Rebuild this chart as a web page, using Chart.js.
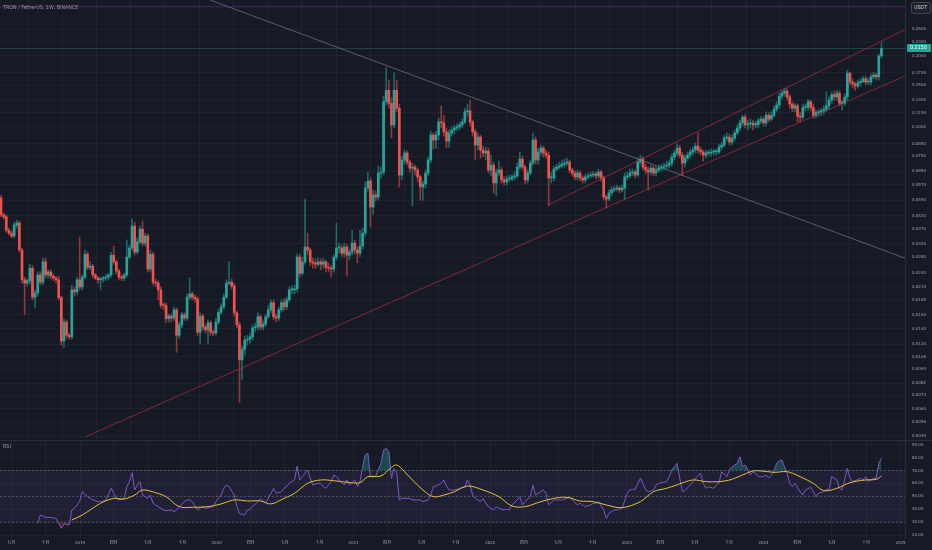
<!DOCTYPE html>
<html>
<head>
<meta charset="utf-8">
<script src="https://cdn.jsdelivr.net/npm/chart.js@4.4.1/dist/chart.umd.min.js"></script>
<style>
  body { margin:0; background:#161a25; width:932px; height:550px; overflow:hidden; position:relative; font-family:"DejaVu Sans", sans-serif; }
  #main { position:absolute; left:0; top:0; width:932px; height:440px; }
  #rsi { position:absolute; left:0; top:441px; width:932px; height:109px; }
  .sep { position:absolute; left:0; top:440px; width:932px; height:1px; background:#2a2e39; }
  .small { position:absolute; font-size:8px; transform:scale(0.6); transform-origin:0 0; white-space:nowrap; }
  #unit { position:absolute; left:911px; top:2px; width:18px; height:10px; border:1px solid #434651; border-radius:2px; background:#1e222d; }
  #tag { position:absolute; left:907px; top:44px; width:24px; height:8px; background:#26a69a; border-radius:1px; }
</style>
</head>
<body>
<div id="main"><canvas id="priceChart"></canvas></div>
<div class="sep"></div>
<div id="rsi"><canvas id="rsiChart"></canvas></div>
<div class="small" style="left:3px;top:5px;color:#9598a1">TRON / TetherUS, 1W, BINANCE</div>
<div class="small" style="left:3px;top:444px;color:#9598a1">RSI</div>
<div id="unit"><div class="small" style="left:2px;top:2px;color:#d1d4dc">USDT</div></div>
<div id="tag"><div class="small" style="left:3px;top:1px;color:#ffffff">0.2150</div></div>
<script>
// weekly candles, week 0 = 2018-06-04
const firstOpen = 0.0500;
const closes = [
0.0424,0.0416,0.0365,0.0355,0.0345,0.0384,0.0392,0.0301,0.0225,0.0218,
0.0223,0.0252,0.0190,0.0198,0.0236,0.0220,0.0268,0.0236,0.0243,0.0233,
0.0229,0.0225,0.0189,0.0124,0.0149,0.0131,0.0129,0.0204,0.0200,0.0225,
0.0210,0.0231,0.0289,0.0254,0.0257,0.0236,0.0229,0.0225,0.0227,0.0229,
0.0231,0.0236,0.0286,0.0268,0.0245,0.0231,0.0229,0.0236,0.0281,0.0307,
0.0380,0.0295,0.0326,0.0369,0.0322,0.0345,0.0250,0.0289,0.0220,0.0218,
0.0204,0.0176,0.0175,0.0154,0.0158,0.0155,0.0168,0.0131,0.0145,0.0160,
0.0155,0.0190,0.0196,0.0190,0.0187,0.0135,0.0158,0.0142,0.0138,0.0148,
0.0135,0.0134,0.0149,0.0164,0.0173,0.0190,0.0218,0.0220,0.0212,0.0163,
0.0145,0.0103,0.0114,0.0125,0.0126,0.0129,0.0141,0.0142,0.0157,0.0142,
0.0146,0.0157,0.0168,0.0180,0.0157,0.0155,0.0168,0.0180,0.0173,0.0185,
0.0204,0.0204,0.0206,0.0281,0.0240,0.0268,0.0310,0.0301,0.0268,0.0265,
0.0262,0.0268,0.0262,0.0268,0.0254,0.0252,0.0250,0.0281,0.0307,0.0307,
0.0292,0.0310,0.0286,0.0295,0.0322,0.0301,0.0292,0.0313,0.0355,0.0551,
0.0590,0.0458,0.0515,0.0505,0.0638,0.0644,0.128,0.143,0.126,0.102,
0.143,0.120,0.0626,0.0724,0.0775,0.0710,0.0669,0.0676,0.0657,0.0614,
0.0557,0.0573,0.0638,0.0724,0.0924,0.0880,0.0924,0.105,0.104,0.0952,
0.0872,0.0943,0.0971,0.0990,0.100,0.102,0.105,0.116,0.117,0.105,
0.0952,0.0838,0.0906,0.0798,0.0775,0.0790,0.0657,0.0689,0.0579,0.0638,
0.0657,0.0596,0.0585,0.0602,0.0602,0.0614,0.0620,0.0676,0.0731,0.0676,
0.0596,0.0638,0.0703,0.0880,0.0724,0.0783,0.0814,0.0775,0.0760,0.0608,
0.0608,0.0663,0.0676,0.0683,0.0696,0.0703,0.0710,0.0657,0.0638,0.0614,
0.0638,0.0608,0.0596,0.0614,0.0620,0.0626,0.0632,0.0620,0.0644,0.0608,
0.0505,0.0495,0.0525,0.0541,0.0546,0.0551,0.0541,0.0551,0.0614,0.0620,
0.0638,0.0644,0.0626,0.0710,0.0731,0.0676,0.0657,0.0644,0.0669,0.0638,
0.0657,0.0669,0.0676,0.0683,0.0689,0.0703,0.0746,0.0775,0.0814,0.0760,
0.0703,0.0738,0.0760,0.0783,0.0798,0.0830,0.0798,0.0783,0.0760,0.0775,
0.0775,0.0783,0.0783,0.0783,0.0822,0.0838,0.0897,0.0906,0.0863,0.0897,
0.0943,0.0990,0.104,0.110,0.102,0.103,0.104,0.102,0.102,0.106,
0.108,0.104,0.112,0.108,0.112,0.119,0.124,0.135,0.139,0.142,
0.134,0.125,0.120,0.123,0.111,0.110,0.121,0.121,0.128,0.121,
0.112,0.115,0.116,0.117,0.119,0.123,0.130,0.137,0.134,0.139,
0.126,0.126,0.134,0.169,0.155,0.152,0.149,0.154,0.156,0.160,
0.155,0.155,0.163,0.166,0.163,0.200,0.215
];
const highs = [
0.0515,0.0432,0.0424,0.0373,0.0362,0.0395,0.0403,0.0399,0.0307,0.0231,
0.0227,0.0262,0.0259,0.0204,0.0243,0.0243,0.0278,0.0278,0.0248,0.0248,
0.0238,0.0233,0.0233,0.0192,0.0154,0.0152,0.0134,0.0214,0.0210,0.0231,
0.0342,0.0236,0.0301,0.0295,0.0268,0.0262,0.0240,0.0233,0.0231,0.0233,
0.0236,0.0240,0.0295,0.0313,0.0273,0.0250,0.0236,0.0240,0.0332,0.0316,
0.0407,0.0395,0.0339,0.0380,0.0399,0.0355,0.0352,0.0301,0.0295,0.0227,
0.0223,0.0210,0.0180,0.0180,0.0161,0.0161,0.0173,0.0171,0.0149,0.0164,
0.0163,0.0196,0.0229,0.0200,0.0194,0.0190,0.0163,0.0161,0.0145,0.0152,
0.0151,0.0138,0.0155,0.0169,0.0178,0.0196,0.0225,0.0268,0.0227,0.0218,
0.0166,0.0149,0.0118,0.0130,0.0131,0.0134,0.0145,0.0148,0.0163,0.0160,
0.0151,0.0161,0.0175,0.0185,0.0185,0.0161,0.0173,0.0185,0.0187,0.0190,
0.0210,0.0212,0.0214,0.0289,0.0289,0.0281,0.0495,0.0355,0.0307,0.0278,
0.0276,0.0278,0.0276,0.0278,0.0273,0.0265,0.0259,0.0289,0.0392,0.0322,
0.0316,0.0322,0.0319,0.0304,0.0365,0.0332,0.0310,0.0365,0.0373,0.0585,
0.0644,0.0608,0.0541,0.0535,0.0683,0.0676,0.135,0.178,0.158,0.133,
0.169,0.158,0.125,0.0753,0.0798,0.0790,0.0724,0.0703,0.0689,0.0669,
0.0626,0.0590,0.0657,0.0746,0.0961,0.0943,0.0961,0.109,0.123,0.112,
0.0990,0.0971,0.100,0.102,0.103,0.105,0.108,0.120,0.125,0.130,
0.107,0.0980,0.0943,0.0924,0.0830,0.0822,0.0814,0.0760,0.0710,0.0663,
0.0717,0.0676,0.0614,0.0620,0.0626,0.0632,0.0644,0.0703,0.0783,0.0753,
0.0689,0.0657,0.0724,0.0943,0.0906,0.0814,0.0838,0.0830,0.0798,0.0783,
0.0644,0.0683,0.0696,0.0710,0.0724,0.0731,0.0738,0.0724,0.0669,0.0650,
0.0657,0.0650,0.0620,0.0632,0.0638,0.0644,0.0650,0.0644,0.0663,0.0657,
0.0620,0.0515,0.0541,0.0557,0.0562,0.0567,0.0562,0.0567,0.0638,0.0644,
0.0663,0.0663,0.0657,0.0738,0.0760,0.0746,0.0696,0.0676,0.0689,0.0683,
0.0676,0.0689,0.0696,0.0703,0.0717,0.0724,0.0768,0.0798,0.0846,0.0838,
0.0783,0.0760,0.0783,0.0806,0.0822,0.0855,0.0943,0.0822,0.0798,0.0798,
0.0798,0.0806,0.0806,0.0806,0.0846,0.0863,0.0924,0.0943,0.0933,0.0924,
0.0971,0.102,0.107,0.112,0.113,0.107,0.108,0.107,0.106,0.109,
0.111,0.110,0.116,0.115,0.116,0.123,0.128,0.139,0.143,0.146,
0.145,0.137,0.128,0.126,0.125,0.115,0.125,0.125,0.131,0.130,
0.125,0.118,0.119,0.120,0.123,0.141,0.134,0.141,0.142,0.143,
0.142,0.130,0.138,0.174,0.171,0.160,0.155,0.158,0.161,0.164,
0.164,0.161,0.168,0.171,0.169,0.204,0.227
];
const lows = [
0.0416,0.0407,0.0358,0.0349,0.0339,0.0339,0.0373,0.0295,0.0218,0.0160,
0.0212,0.0216,0.0185,0.0171,0.0192,0.0214,0.0214,0.0229,0.0229,0.0227,
0.0223,0.0218,0.0185,0.0119,0.0116,0.0127,0.0126,0.0126,0.0192,0.0194,
0.0204,0.0204,0.0227,0.0248,0.0248,0.0229,0.0225,0.0218,0.0204,0.0220,
0.0223,0.0225,0.0231,0.0262,0.0238,0.0225,0.0223,0.0223,0.0231,0.0276,
0.0301,0.0286,0.0289,0.0319,0.0313,0.0313,0.0243,0.0243,0.0214,0.0210,
0.0185,0.0171,0.0168,0.0148,0.0149,0.0149,0.0151,0.0111,0.0127,0.0141,
0.0151,0.0152,0.0185,0.0185,0.0181,0.0131,0.0121,0.0138,0.0134,0.0120,
0.0131,0.0130,0.0131,0.0146,0.0161,0.0169,0.0187,0.0214,0.0206,0.0158,
0.0141,0.0068,0.0085,0.0108,0.0119,0.0121,0.0125,0.0136,0.0138,0.0138,
0.0138,0.0143,0.0154,0.0163,0.0152,0.0149,0.0151,0.0164,0.0166,0.0168,
0.0181,0.0196,0.0196,0.0200,0.0231,0.0236,0.0262,0.0289,0.0259,0.0252,
0.0252,0.0257,0.0248,0.0252,0.0243,0.0243,0.0231,0.0243,0.0273,0.0292,
0.0283,0.0281,0.0233,0.0273,0.0286,0.0289,0.0265,0.0283,0.0304,0.0345,
0.0535,0.0377,0.0428,0.0486,0.0490,0.0608,0.0626,0.124,0.120,0.0897,
0.0990,0.116,0.0557,0.0596,0.0696,0.0689,0.0644,0.0462,0.0626,0.0585,
0.0490,0.0490,0.0551,0.0620,0.0703,0.0806,0.0814,0.0880,0.0990,0.0915,
0.0814,0.0822,0.0915,0.0933,0.0961,0.0971,0.0990,0.103,0.111,0.101,
0.0915,0.0724,0.0798,0.0738,0.0746,0.0724,0.0638,0.0620,0.0525,0.0510,
0.0620,0.0579,0.0567,0.0567,0.0585,0.0590,0.0596,0.0608,0.0663,0.0657,
0.0573,0.0579,0.0626,0.0689,0.0696,0.0696,0.0760,0.0746,0.0738,0.0462,
0.0579,0.0590,0.0650,0.0663,0.0669,0.0676,0.0689,0.0638,0.0620,0.0596,
0.0596,0.0590,0.0579,0.0579,0.0602,0.0608,0.0614,0.0602,0.0608,0.0590,
0.0490,0.0453,0.0486,0.0510,0.0530,0.0535,0.0525,0.0530,0.0495,0.0596,
0.0608,0.0620,0.0608,0.0614,0.0696,0.0657,0.0632,0.0541,0.0626,0.0620,
0.0620,0.0644,0.0650,0.0657,0.0663,0.0669,0.0683,0.0724,0.0753,0.0738,
0.0626,0.0676,0.0717,0.0738,0.0760,0.0775,0.0775,0.0760,0.0717,0.0738,
0.0753,0.0753,0.0760,0.0760,0.0768,0.0798,0.0822,0.0872,0.0838,0.0838,
0.0872,0.0924,0.0961,0.101,0.0990,0.0971,0.0990,0.0971,0.0990,0.0990,
0.103,0.101,0.101,0.105,0.106,0.110,0.116,0.120,0.131,0.135,
0.130,0.120,0.116,0.116,0.105,0.105,0.108,0.117,0.118,0.117,
0.109,0.109,0.111,0.112,0.113,0.116,0.119,0.126,0.130,0.130,
0.123,0.118,0.123,0.130,0.151,0.146,0.143,0.146,0.149,0.154,
0.151,0.151,0.151,0.160,0.158,0.158,0.196
];

// RSI(14) and its moving average, by week number
const rsiWeeks = [
14,15,17,19,21,22,23,24,26,27, 28,29,30,31,33,34,35,37,38,39,
40,42,43,44,45,47,48,49,50,51, 52,53,54,56,57,58,59,61,62,63,
65,66,67,68,70,71,72,73,75,76, 77,78,80,81,82,84,85,86,87,89,
90,91,93,94,95,96,98,99,100,101, 103,104,105,107,108,109,110,112,113,114,
115,117,118,119,121,122,123,124,126,127, 128,129,131,132,133,135,136,137,138,139,
140,141,142,143,145,146,147,148,149,150, 151,152,153,155,156,157,159,160,161,163,
164,165,166,168,169,170,171,173,174,175, 177,178,179,180,181,183,184,185,186,188,
189,190,192,193,194,195,197,198,199,200, 202,203,204,206,207,208,209,211,212,213,
214,216,217,218,220,221,222,223,225,226, 227,228,230,231,232,234,235,236,237,239,
240,241,242,244,245,246,247,249,250,251, 254,255,256,257,258,260,261,263,264,265,
267,268,269,270,272,273,274,275,277,278, 279,281,282,283,284,286,287,288,289,291,
292,293,295,296,297,298,300,301,302,303, 305,306,307,309,310,311,312,314,315,316,
317,319,320,321,323,324,325,326,328,329, 330,331,333,334,335,336
];
const rsiValues = [
29.1,35.5,33.7,33.7,32.9,29.1,25.2,28.6,27.8,39.4, 40.7,43.3,45.9,53.6,49.7,48.4,47.2,45.9,45.9,46.4,
47.2,56.2,52.3,48.4,47.2,48.4,57.5,61.4,68.3,54.9, 58.8,61.4,51.0,48.4,51.0,44.6,43.3,40.7,39.4,38.9,
39.4,38.1,39.4,42.0,45.9,47.2,47.2,45.9,39.4,40.7, 42.0,40.7,41.5,42.0,45.9,51.0,56.2,58.8,57.5,51.0,
42.0,36.8,35.5,39.4,39.9,42.0,45.9,48.4,46.6,45.1, 52.3,56.2,52.3,53.6,56.2,57.5,60.1,62.7,73.5,62.7,
65.2,70.4,64.0,58.8,60.1,60.1,57.5,56.2,61.4,66.5, 65.2,62.7,58.8,62.7,58.8,62.7,57.5,61.4,73.0,82.0,
83.3,65.2,64.7,65.8,75.6,85.9,87.2,84.6,64.0,71.7, 68.0,47.2,48.4,48.4,48.4,47.2,47.2,47.2,45.9,47.2,
51.0,57.5,58.0,60.1,62.7,58.0,54.9,54.9,55.4,56.2, 57.0,62.7,58.8,51.0,48.4,45.9,48.4,44.6,42.0,39.4,
42.0,40.7,39.4,40.2,39.4,43.3,47.2,49.7,43.3,45.9, 49.7,58.8,51.0,53.6,54.9,52.3,43.3,47.2,47.2,47.2,
47.2,48.4,49.7,47.2,43.3,44.6,43.3,42.0,43.3,44.6, 44.6,45.9,39.4,32.9,36.8,39.4,39.4,39.9,40.7,52.3,
54.9,55.4,55.4,64.0,60.1,54.9,53.6,54.9,58.8,60.1, 61.4,65.2,70.4,73.0,75.6,53.6,54.4,58.8,61.4,64.0,
67.8,60.1,56.2,57.5,56.2,58.8,60.1,69.1,65.2,70.4, 73.0,75.6,80.7,73.0,74.3,66.5,69.1,67.8,65.2,65.2,
66.5,64.0,69.1,75.6,77.6,78.2,67.8,60.1,57.5,60.1, 53.6,51.0,54.9,57.0,53.6,49.7,52.3,53.6,55.4,54.9,
65.2,62.7,56.2,54.9,71.7,64.0,61.4,62.1,64.0,62.7, 65.2,61.4,64.0,64.0,75.6,79.5
];
const maWeeks = [
27,31,38,43,47,51,54,59,63,68, 73,79,84,89,94,99,103,108,112,117,
122,127,132,137,140,145,149,151,154,157, 161,165,169,173,178,184,190,195,200,206,
211,216,221,226,231,237,244,249,254,259, 264,269,274,279,286,289,295,300,305,310,
314,319,324,330,334,336
];
const maValues = [
31.7,35.5,44.6,48.4,47.9,51.0,54.9,52.8,49.7,42.0, 41.5,42.0,44.1,47.2,46.4,46.4,44.1,48.4,52.3,60.1,
62.7,62.1,60.9,60.6,65.2,65.8,72.5,74.3,69.1,62.7, 54.9,49.7,51.0,53.6,58.0,54.9,49.7,42.5,42.0,45.9,
48.4,49.2,46.4,45.9,43.3,41.2,45.9,53.6,56.2,59.6, 62.7,61.4,61.4,63.2,69.1,69.9,68.6,69.1,65.2,60.1,
54.4,56.2,60.6,62.7,63.2,65.8
];

// price scale labels and time axis labels
const priceTicks = [0.26,0.23,0.20,0.17,0.15,0.13,0.115,0.10,0.085,0.075,0.065,0.057,0.049,0.042,0.037,
  0.032,0.028,0.024,0.021,0.0185,0.016,0.014,0.012,0.0106,0.0094,0.0082,0.0073,0.0064,0.0056,0.0049];
const rsiTicks = [20,30,40,50,60,70,80,90];
const tickDates = ['2018-07-01','2018-10-01','2019-01-01','2019-04-01','2019-07-01','2019-10-01',
  '2020-01-01','2020-04-01','2020-07-01','2020-10-01','2021-01-01','2021-04-01','2021-07-01','2021-10-01',
  '2022-01-01','2022-04-01','2022-07-01','2022-10-01','2023-01-01','2023-04-01','2023-07-01','2023-10-01',
  '2024-01-01','2024-04-01','2024-07-01','2024-10-01','2025-01-01'];
const tickTexts = ['七月','十月','2019','四月','七月','十月','2020','四月','七月','十月','2021','四月','七月','十月',
  '2022','四月','七月','十月','2023','四月','七月','十月','2024','四月','七月','十月','2025'];

// drawings: [week, price] anchors
const downTrend = [[79.8, 0.345], [345, 0.0278]];
const channelLow = [[32.1, 0.00486], [345, 0.1645]];
const channelHigh = [[208.8, 0.0467], [345, 0.2587]];
const alertLevel = 0.3232;
const lastPrice = 0.2150;

const firstWeek = Date.UTC(2018, 5, 4);
const weekMs = 7 * 24 * 3600 * 1000;
const tickWeeks = tickDates.map(d => (Date.parse(d) - firstWeek) / weekMs);
const xMin = -0.4, xMax = 345;

const opens = [firstOpen].concat(closes.slice(0, -1));
const isUp = closes.map((c, i) => c >= opens[i]);
const bodyColors = isUp.map(u => u ? '#26a69a' : '#ef5350');
const wickColors = isUp.map(u => u ? 'rgba(38,166,154,0.55)' : 'rgba(239,83,80,0.55)');

const gridCol = 'rgba(240,243,250,0.045)';
const tickFont = { size: 4, family: '"DejaVu Sans", "Noto Sans CJK SC", sans-serif' };
const textCol = '#a3a6af';

function seg(pts) { return pts.map(p => ({ x: p[0], y: p[1] })); }
function lineDs(data, color, extra) {
  return Object.assign({ type: 'line', data: data, borderColor: color, borderWidth: 1,
    pointRadius: 0, pointHoverRadius: 0, fill: false, order: 0 }, extra || {});
}
function xAxis(showLabels) {
  return {
    type: 'linear', min: xMin, max: xMax, offset: false,
    afterBuildTicks: s => { s.ticks = tickWeeks.map(v => ({ value: v })); },
    afterFit: s => { s.height = showLabels ? 12 : 0; s.paddingLeft = 0; s.paddingRight = 0; },
    grid: { color: gridCol, drawTicks: false },
    border: { display: false },
    ticks: {
      display: showLabels, autoSkip: false, maxRotation: 0, padding: 3,
      color: textCol, font: tickFont,
      callback: (v, i) => tickTexts[i]
    }
  };
}
function yFit(s) { s.width = 27; s.paddingTop = 0; s.paddingBottom = 0; }

new Chart(document.getElementById('priceChart'), {
  type: 'bar',
  data: {
    datasets: [
      lineDs(seg(downTrend), 'rgba(120,123,134,0.7)'),
      lineDs(seg(channelLow), 'rgba(200,50,72,0.6)'),
      lineDs(seg(channelHigh), 'rgba(200,50,72,0.6)'),
      lineDs([{ x: xMin, y: alertLevel }, { x: xMax, y: alertLevel }], 'rgba(142,36,170,0.5)', { order: 3 }),
      lineDs([{ x: xMin, y: lastPrice }, { x: xMax, y: lastPrice }], 'rgba(38,166,154,0.3)', { order: 3 }),
      {
        type: 'bar', order: 1, grouped: false,
        data: closes.map((c, i) => ({ x: i, y: [opens[i], c] })),
        backgroundColor: bodyColors, barThickness: 2, minBarLength: 1
      },
      {
        type: 'bar', order: 2, grouped: false,
        data: closes.map((c, i) => ({ x: i, y: [Math.min(lows[i], opens[i], c), Math.max(highs[i], opens[i], c)] })),
        backgroundColor: wickColors, barThickness: 1
      }
    ]
  },
  options: {
    responsive: true, maintainAspectRatio: false, animation: false,
    layout: { padding: 0, autoPadding: false },
    plugins: { legend: { display: false }, tooltip: { enabled: false } },
    scales: {
      x: xAxis(false),
      y: {
        type: 'logarithmic', position: 'right', min: 0.004716, max: 0.3451,
        afterBuildTicks: s => { s.ticks = priceTicks.map(v => ({ value: v })); },
        afterFit: yFit,
        grid: { color: gridCol, drawTicks: false },
        border: { color: '#2a2e39' },
        ticks: { autoSkip: false, padding: 7, color: textCol, font: tickFont,
          callback: v => Number(v).toFixed(4) }
      }
    }
  }
});

const band = (v, extra) => lineDs([{ x: xMin, y: v }, { x: xMax, y: v }], 'rgba(120,123,134,0.55)',
  Object.assign({ borderDash: [2, 2], order: 5 }, extra || {}));
const rsiPts = rsiWeeks.map((w, k) => ({ x: w, y: rsiValues[k] }));

new Chart(document.getElementById('rsiChart'), {
  type: 'line',
  data: {
    datasets: [
      band(70),
      band(30, { fill: '-1', backgroundColor: 'rgba(126,87,194,0.1)' }),
      band(50),
      lineDs(rsiPts, '#7e57c2', { order: 2,
        fill: { target: { value: 70 }, above: 'rgba(38,166,154,0.35)', below: 'rgba(0,0,0,0)' } }),
      lineDs(rsiPts, 'rgba(0,0,0,0)', { order: 3, borderWidth: 0,
        fill: { target: { value: 30 }, above: 'rgba(0,0,0,0)', below: 'rgba(242,54,69,0.25)' } }),
      lineDs(maWeeks.map((w, k) => ({ x: w, y: maValues[k] })), '#e3c33b', { order: 1, tension: 0.35 })
    ]
  },
  options: {
    responsive: true, maintainAspectRatio: false, animation: false,
    layout: { padding: 0, autoPadding: false },
    plugins: { legend: { display: false }, tooltip: { enabled: false } },
    scales: {
      x: xAxis(true),
      y: {
        position: 'right', min: 17.7, max: 92.9,
        afterBuildTicks: s => { s.ticks = rsiTicks.map(v => ({ value: v })); },
        afterFit: yFit,
        grid: { color: gridCol, drawTicks: false },
        border: { color: '#2a2e39' },
        ticks: { autoSkip: false, padding: 7, color: textCol, font: tickFont,
          callback: v => Number(v).toFixed(2) }
      }
    }
  }
});
</script>
</body>
</html>
